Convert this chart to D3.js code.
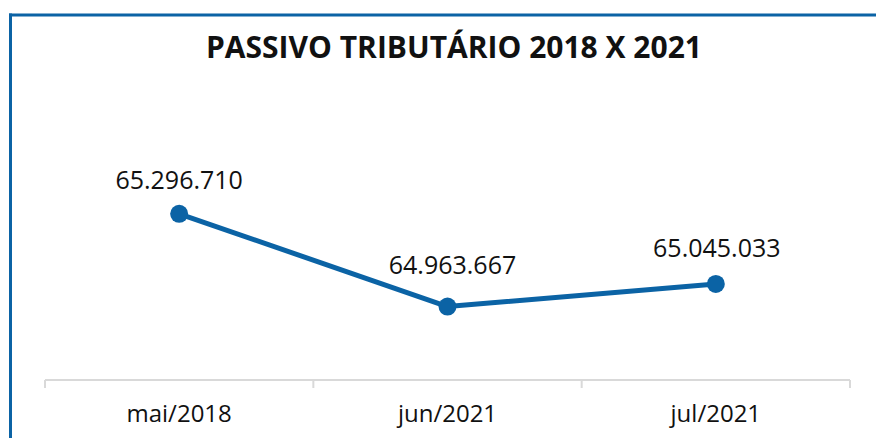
<!DOCTYPE html>
<html>
<head>
<meta charset="utf-8">
<script src="https://cdn.jsdelivr.net/npm/d3@7"></script>
<style>
  body{margin:0;background:#fff;}
  text{font-family:"Open Sans",sans-serif;fill:#111;}
</style>
</head>
<body>
<script>
// data
const categories = ['mai/2018', 'jun/2021', 'jul/2021'];
const values = [65296710, 64963667, 65045033];
const valueLabels = ['65.296.710', '64.963.667', '65.045.033'];
const title = 'PASSIVO TRIBUTÁRIO 2018 X 2021';

const width = 876, height = 438;
const blue = '#0b63a5';
const labelShift = [[0, -25], [5, -33], [1, -27]]; // label placement as in the original

const svg = d3.select('body').append('svg')
    .attr('width', width).attr('height', height);

// frame (top + left border)
svg.append('line').attr('x1', 9).attr('x2', width).attr('y1', 15).attr('y2', 15)
    .attr('stroke', blue).attr('stroke-width', 3);
svg.append('line').attr('x1', 10.5).attr('x2', 10.5).attr('y1', 13.5).attr('y2', height)
    .attr('stroke', blue).attr('stroke-width', 3);

// title
svg.append('text')
    .attr('x', 454).attr('y', 58)
    .attr('text-anchor', 'middle')
    .style('font-weight', 'bold').style('font-size', '30px')
    .text(title);

// scales
const x = d3.scaleBand().domain(categories).range([45, 850]);
const y = d3.scaleLinear().domain([64700000, 65400000]).range([380, 185]);

// x axis
const axis = svg.append('g').attr('transform', 'translate(0,380)');
axis.append('line').attr('x1', 45).attr('x2', 850)
    .attr('stroke', '#d9d9d9').attr('stroke-width', 2);
const edges = categories.map(c => x(c)).concat([x.range()[1]]);
axis.selectAll('line.tick').data(edges).join('line')
    .classed('tick', true)
    .attr('x1', d => d).attr('x2', d => d)
    .attr('y1', 0).attr('y2', 8)
    .attr('stroke', '#d9d9d9').attr('stroke-width', 2);
axis.selectAll('text.cat').data(categories).join('text')
    .classed('cat', true)
    .attr('x', d => x(d) + x.bandwidth()/2)
    .attr('y', 42)
    .attr('text-anchor', 'middle')
    .style('font-size', '24px')
    .text(d => d);

// line
const pts = categories.map((c, i) => [x(c) + x.bandwidth()/2, y(values[i])]);
svg.append('path')
    .attr('d', d3.line()(pts))
    .attr('fill', 'none').attr('stroke', blue).attr('stroke-width', 5)
    .attr('stroke-linejoin', 'round');
svg.selectAll('circle.pt').data(pts).join('circle')
    .classed('pt', true)
    .attr('cx', d => d[0]).attr('cy', d => d[1]).attr('r', 9)
    .attr('fill', blue);

// value labels
svg.selectAll('text.val').data(pts).join('text')
    .classed('val', true)
    .attr('x', (d, i) => d[0] + labelShift[i][0])
    .attr('y', (d, i) => d[1] + labelShift[i][1])
    .attr('text-anchor', 'middle')
    .style('font-size', '25px')
    .text((d, i) => valueLabels[i]);
</script>
</body>
</html>
